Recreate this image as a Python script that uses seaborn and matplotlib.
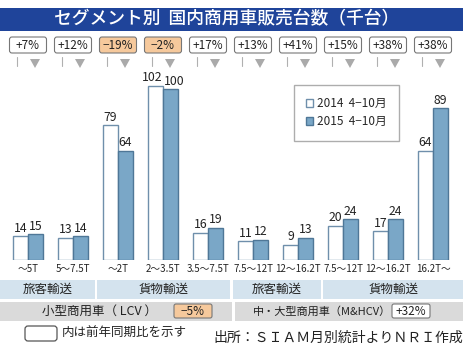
import pandas as pd
import numpy as np
import matplotlib
matplotlib.use("Agg")
import matplotlib.pyplot as plt
import seaborn as sns
from matplotlib.patches import Rectangle, FancyBboxPatch, Polygon, Patch

segments = ["～5T", "5～7.5T", "～2T", "2～3.5T", "3.5～7.5T",
            "7.5～12T", "12～16.2T", "7.5～12T", "12～16.2T", "16.2T～"]
sales_2014 = [14, 13, 79, 102, 16, 11, 9, 20, 17, 64]
sales_2015 = [15, 14, 64, 100, 19, 12, 13, 24, 24, 89]
yoy = ["+7%", "+12%", "−19%", "−2%", "+17%", "+13%", "+41%", "+15%", "+38%", "+38%"]
series = ["2014  4−10月", "2015  4−10月"]
row1 = ["旅客輸送", "貨物輸送", "旅客輸送", "貨物輸送"]
row2 = ["小型商用車（ LCV ）", "中・大型商用車（M&HCV）"]
row2_yoy = ["−5%", "+32%"]

WHITE_EDGE = "#6f8fab"
BLUE = "#7aa7c7"
BLUE_EDGE = "#4f7797"
ORANGE = "#f6c99c"
NAVY = "#1f449a"
JP = ["Noto Sans CJK JP", "DejaVu Sans"]
NARROW = ["Liberation Sans Narrow", "Noto Sans CJK JP", "DejaVu Sans"]

sns.set_style("white")
plt.rcParams["font.family"] = JP

df = pd.DataFrame({
    "seg": [str(i) for i in range(len(segments))] * 2,
    "period": [series[0]] * len(segments) + [series[1]] * len(segments),
    "sales": sales_2014 + sales_2015,
})

W, H = 464, 351
fig = plt.figure(figsize=(W / 100, H / 100), dpi=100)

# overlay in pixel coordinates for boxes and texts
ov = fig.add_axes([0, 0, 1, 1], zorder=0)
ov.set_xlim(0, W)
ov.set_ylim(H, 0)
ov.axis("off")

# bar axes: baseline at y=260px, 1.708 px per unit
base, ppu = 260, 1.708
ax = fig.add_axes([5.5 / W, (H - base) / H, 450 / W, 180 / H], zorder=1)
ax.patch.set_alpha(0)
sns.barplot(data=df, x="seg", y="sales", hue="period", order=[str(i) for i in range(10)],
            palette=["white", BLUE], saturation=1, width=0.67, gap=0, legend=False, ax=ax)
ax.set_xlim(-0.5, 9.5)
ax.set_ylim(0, 180 / ppu)
labels = []
for cont, ec in zip(ax.containers, [WHITE_EDGE, BLUE_EDGE]):
    for bar in cont:
        bar.set_edgecolor(ec)
        bar.set_linewidth(1.0)
    labels.append(ax.bar_label(cont, padding=1, fontsize=8.8, family=NARROW, color="#222222"))
# three-digit pairs collide: nudge them apart a little
for i in range(len(segments)):
    if sales_2014[i] >= 100 and sales_2015[i] >= 100:
        labels[0][i].xyann = (-2.5, 1)
        labels[1][i].xyann = (2.5, 1)
ax.set_xticks(range(10))
ax.set_xticklabels(segments, fontsize=7, family=NARROW, color="#222222")
ax.tick_params(axis="x", length=0, pad=3)
ax.set_yticks([])
ax.set_xlabel("")
ax.set_ylabel("")
sns.despine(ax=ax, left=True, bottom=True)

# legend
handles = [Patch(facecolor="white", edgecolor=WHITE_EDGE), Patch(facecolor=BLUE, edgecolor=BLUE_EDGE)]
fig.legend(handles, series, loc="upper left", bbox_to_anchor=(294 / W, 1 - 85 / H),
           borderaxespad=0, frameon=True, fancybox=False, edgecolor="#999999",
           handlelength=0.6, handleheight=0.6, handletextpad=0.3, labelspacing=0.4,
           borderpad=1.05, prop={"family": NARROW, "size": 8.5})

# title bar
ov.add_patch(Rectangle((0, 8), W, 23, facecolor=NAVY, edgecolor="none"))
ov.text(227, 19.5, "セグメント別  国内商用車販売台数（千台）", color="white",
        fontsize=12.8, ha="center", va="center", family=JP, fontweight="medium")

# yoy boxes and arrows above each group
for i, lab in enumerate(yoy):
    cx = ov.transData.inverted().transform(ax.transData.transform((i, 0)))[0]
    fc = ORANGE if lab.startswith("−") else "white"
    ov.add_patch(FancyBboxPatch((cx - 18.5, 37), 37, 16, boxstyle="round,pad=0,rounding_size=2.5",
                                facecolor=fc, edgecolor="#777777", linewidth=0.8))
    ov.text(cx, 45.5, lab, fontsize=8.5, ha="center", va="center", family=NARROW, color="#222222")
    ov.plot([cx - 11, cx - 11], [57, 66], color="#b0b0b0", lw=0.8)
    ov.add_patch(Polygon([[cx + 2, 59], [cx + 12, 59], [cx + 7, 68]], closed=True,
                         facecolor="#aaaaaa", edgecolor="none"))

# category rows
row1_spans = [(0, 95), (97, 230), (233, 321), (323, 464)]
for (x0, x1), lab in zip(row1_spans, row1):
    ov.add_patch(Rectangle((x0, 280), x1 - x0, 19, facecolor="#d4e3ee", edgecolor="none"))
    ov.text((x0 + x1) / 2, 289.5, lab, fontsize=9, ha="center", va="center", color="#222222")

row2_spans = [(0, 232), (235, 464)]
for (x0, x1), lab in zip(row2_spans, row2):
    ov.add_patch(Rectangle((x0, 302), x1 - x0, 19, facecolor="#dadada", edgecolor="none"))
ov.text(100, 311.5, row2[0], fontsize=9, ha="center", va="center", color="#222222")
ov.text(322, 311.5, row2[1], fontsize=8, ha="center", va="center", color="#222222")
for x0, lab, fc in [(174, row2_yoy[0], ORANGE), (392, row2_yoy[1], "white")]:
    ov.add_patch(FancyBboxPatch((x0, 304), 38, 14, boxstyle="round,pad=0,rounding_size=2",
                                facecolor=fc, edgecolor="#777777", linewidth=0.8))
    ov.text(x0 + 19, 311.5, lab, fontsize=8.5, ha="center", va="center", family=NARROW, color="#222222")

# footnote
ov.add_patch(FancyBboxPatch((25, 326), 32, 15, boxstyle="round,pad=0,rounding_size=3",
                            facecolor="white", edgecolor="#555555", linewidth=0.9))
ov.text(62, 333, "内は前年同期比を示す", fontsize=9, ha="left", va="center", color="#222222")
ov.text(463, 338, "出所：ＳＩＡＭ月別統計よりＮＲＩ作成", fontsize=10, ha="right", va="center",
        color="#222222")

fig.savefig("out.png", dpi=100)
plt.close(fig)
